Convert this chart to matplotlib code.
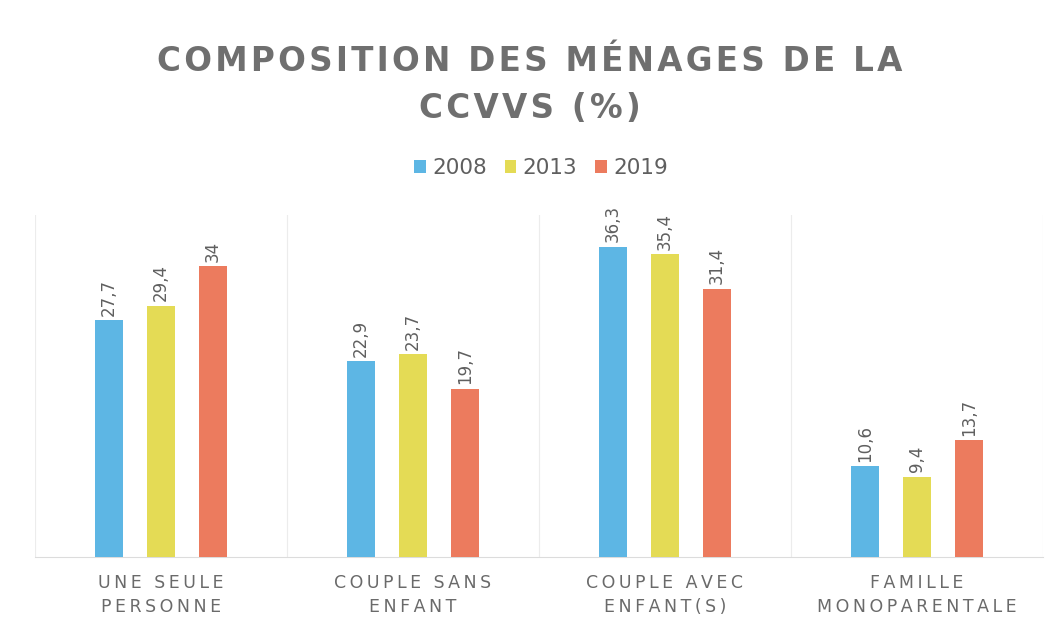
import matplotlib
matplotlib.use("Agg")
import matplotlib.pyplot as plt
import numpy as np

categories = ["UNE SEULE\nPERSONNE", "COUPLE SANS\nENFANT", "COUPLE AVEC\nENFANT(S)", "FAMILLE\nMONOPARENTALE"]
years = ["2008", "2013", "2019"]
v2008 = [27.7, 22.9, 36.3, 10.6]
v2013 = [29.4, 23.7, 35.4, 9.4]
v2019 = [34, 19.7, 31.4, 13.7]
labels2008 = ["27,7", "22,9", "36,3", "10,6"]
labels2013 = ["29,4", "23,7", "35,4", "9,4"]
labels2019 = ["34", "19,7", "31,4", "13,7"]

colors = ["#5DB6E4", "#E4DB55", "#EC7B5E"]
text_gray = "#5f5f5f"

def spaced(s, sp="\u200a"):
    return "\n".join(sp.join(list(line)) for line in s.split("\n"))

plt.rcParams['font.family'] = ['DejaVu Sans']
fig = plt.figure(figsize=(10.59, 6.25), dpi=100)
ax = fig.add_axes([35/1059, 1 - 557/625, 1008/1059, (557-215)/625])

x = np.arange(len(categories))
w = 0.111
off = 0.206
series = [v2008, v2013, v2019]
lbls = [labels2008, labels2013, labels2019]
for i, (vals, lab, col, yr) in enumerate(zip(series, lbls, colors, years)):
    bars = ax.bar(x + (i - 1) * off, vals, width=w, color=col, label=yr, zorder=3)
    for b, t in zip(bars, lab):
        ax.annotate(t, (b.get_x() + b.get_width() / 2, b.get_height()),
                    xytext=(0, 3), textcoords="offset points", rotation=90,
                    ha="center", va="bottom", fontsize=12, color=text_gray)

ax.set_xlim(-0.5, 3.5)
ax.set_ylim(0, 40)
ax.set_yticks([])
ax.set_xticks(x)
ax.set_xticklabels([spaced(c, "\u2009") for c in categories], fontsize=12.5, color="#6a6a6a",
                   linespacing=1.45)
ax.tick_params(axis="x", length=0, pad=12)
for s in ["top", "right", "left"]:
    ax.spines[s].set_visible(False)
ax.spines["bottom"].set_color("#dcdcdc")
for b in np.arange(-0.5, 4.0, 1.0):
    ax.axvline(b, color="#ececec", lw=0.8, zorder=1)

fig.text(0.5, 1 - 85/625, spaced("COMPOSITION DES MÉNAGES DE LA\nCCVVS (%)", "\u200a"),
         ha="center", va="center", fontsize=23.5, fontweight="bold", color="#6f6f6f",
         linespacing=1.55)

leg = fig.legend(loc="center", bbox_to_anchor=(541/1059, 1 - 168/625), ncol=3, frameon=False,
                 fontsize=15.5, handlelength=0.55, handleheight=0.55, handletextpad=0.3,
                 columnspacing=0.8, labelcolor=text_gray)

fig.savefig("out.png", dpi=100, facecolor="white")
